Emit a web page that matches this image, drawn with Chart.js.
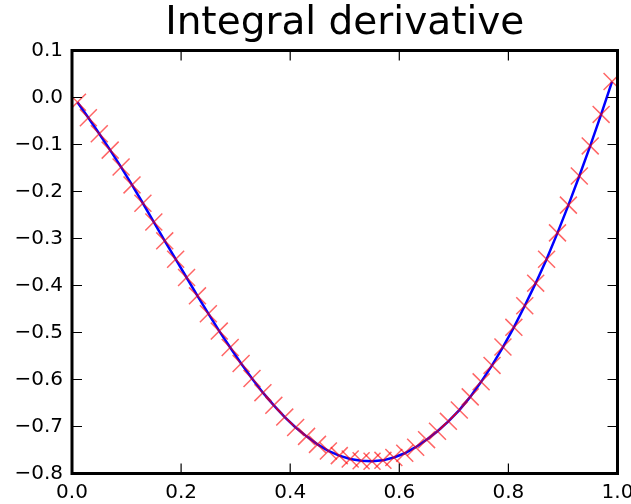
<!DOCTYPE html>
<html>
<head>
<meta charset="utf-8">
<title>Integral derivative</title>
<script src="https://cdn.jsdelivr.net/npm/chart.js@4.4.1/dist/chart.umd.min.js"></script>
<style>
  html, body { margin: 0; padding: 0; background: #fff; }
  #wrap { width: 631px; height: 504px; }
</style>
</head>
<body>
<div id="wrap"><canvas id="derivChart" width="631" height="504"></canvas></div>
<script>
// ====== DADOS ======
const xs = [
    0.01, 0.03, 0.05, 0.07, 0.09, 0.11, 0.13, 0.15, 0.17, 0.19,
    0.21, 0.23, 0.25, 0.27, 0.29, 0.31, 0.33, 0.35, 0.37, 0.39,
    0.41, 0.43, 0.45, 0.47, 0.49, 0.51, 0.53, 0.55, 0.57, 0.59,
    0.61, 0.63, 0.65, 0.67, 0.69, 0.71, 0.73, 0.75, 0.77, 0.79,
    0.81, 0.83, 0.85, 0.87, 0.89, 0.91, 0.93, 0.95, 0.97, 0.99
];
const ys = [
    -0.010, -0.043, -0.077, -0.112, -0.148, -0.186, -0.225, -0.265, -0.305, -0.344,
    -0.383, -0.422, -0.460, -0.497, -0.532, -0.566, -0.598, -0.628, -0.655, -0.680,
    -0.702, -0.721, -0.738, -0.752, -0.762, -0.769, -0.773, -0.774, -0.772, -0.766,
    -0.757, -0.744, -0.728, -0.710, -0.689, -0.665, -0.637, -0.605, -0.570, -0.531,
    -0.489, -0.443, -0.395, -0.344, -0.288, -0.229, -0.167, -0.103, -0.036, 0.034
];
const xTicks = [0.0, 0.2, 0.4, 0.6, 0.8, 1.0];
const yTicks = [-0.8, -0.7, -0.6, -0.5, -0.4, -0.3, -0.2, -0.1, 0.0, 0.1];

const FONT = 'DejaVu Sans';
const TICK_LEN = 10;

// rótulo com sinal de menos tipográfico
function fmt(v) {
    if (Math.abs(v) < 1e-9) return '0.0';
    return v.toFixed(1).replace('-', '\u2212');
}

// moldura grossa e marcas de escala para dentro, nos quatro lados
const frameAndTicks = {
    id: 'frameAndTicks',
    afterDatasetsDraw(chart) {
        const { ctx, chartArea: a, scales } = chart;
        ctx.save();
        ctx.strokeStyle = '#000';
        ctx.lineWidth = 1.2;
        ctx.beginPath();
        scales.x.ticks.forEach(t => {
            const px = scales.x.getPixelForValue(t.value);
            ctx.moveTo(px, a.bottom); ctx.lineTo(px, a.bottom - TICK_LEN);
            ctx.moveTo(px, a.top); ctx.lineTo(px, a.top + TICK_LEN);
        });
        scales.y.ticks.forEach(t => {
            const py = scales.y.getPixelForValue(t.value);
            ctx.moveTo(a.left, py); ctx.lineTo(a.left + TICK_LEN, py);
            ctx.moveTo(a.right, py); ctx.lineTo(a.right - TICK_LEN, py);
        });
        ctx.stroke();
        ctx.lineWidth = 3;
        ctx.strokeRect(a.left, a.top, a.right - a.left, a.bottom - a.top);
        ctx.restore();
    }
};

const ctx = document.getElementById('derivChart');

new Chart(ctx, {
    type: 'line',
    data: {
        datasets: [{
            label: 'derivada',
            data: xs.map((x, i) => ({ x: x, y: ys[i] })),
            borderColor: '#0000ff',
            borderWidth: 2.5,
            fill: false,
            tension: 0,
            pointStyle: 'crossRot',
            pointRadius: 12,
            pointBorderColor: 'rgba(255, 0, 0, 0.6)',
            pointBackgroundColor: 'rgba(0, 0, 0, 0)',
            pointBorderWidth: 1.5
        }]
    },
    options: {
        responsive: false,
        animation: false,
        layout: {
            padding: { top: 0, left: 0, right: 10.5, bottom: 0 }
        },
        plugins: {
            legend: { display: false },
            tooltip: { enabled: false },
            title: {
                display: true,
                text: 'Integral derivative',
                fullSize: false,
                color: '#000',
                font: { family: FONT, size: 39, weight: 'normal' },
                padding: { top: 0.4, bottom: 3.3 }
            }
        },
        scales: {
            x: {
                type: 'linear',
                min: 0,
                max: 1,
                grid: { display: false, drawTicks: false },
                border: { display: false },
                afterBuildTicks: axis => {
                    axis.ticks = xTicks.map(v => ({ value: v }));
                },
                afterFit: scale => {
                    scale.height = 30.5;
                    scale.paddingLeft = 0;
                    scale.paddingRight = 0;
                },
                ticks: {
                    color: '#000',
                    font: { family: FONT, size: 20 },
                    padding: 7.3,
                    maxRotation: 0,
                    autoSkip: false,
                    callback: v => fmt(v)
                }
            },
            y: {
                type: 'linear',
                min: -0.8,
                max: 0.1,
                grid: { display: false, drawTicks: false },
                border: { display: false },
                afterBuildTicks: axis => {
                    axis.ticks = yTicks.map(v => ({ value: v }));
                },
                afterFit: scale => {
                    scale.width = 72;
                    scale.paddingTop = 0;
                    scale.paddingBottom = 0;
                },
                ticks: {
                    color: '#000',
                    font: { family: FONT, size: 20 },
                    padding: 9,
                    autoSkip: false,
                    callback: v => fmt(v)
                }
            }
        }
    },
    plugins: [frameAndTicks]
});
</script>
</body>
</html>
